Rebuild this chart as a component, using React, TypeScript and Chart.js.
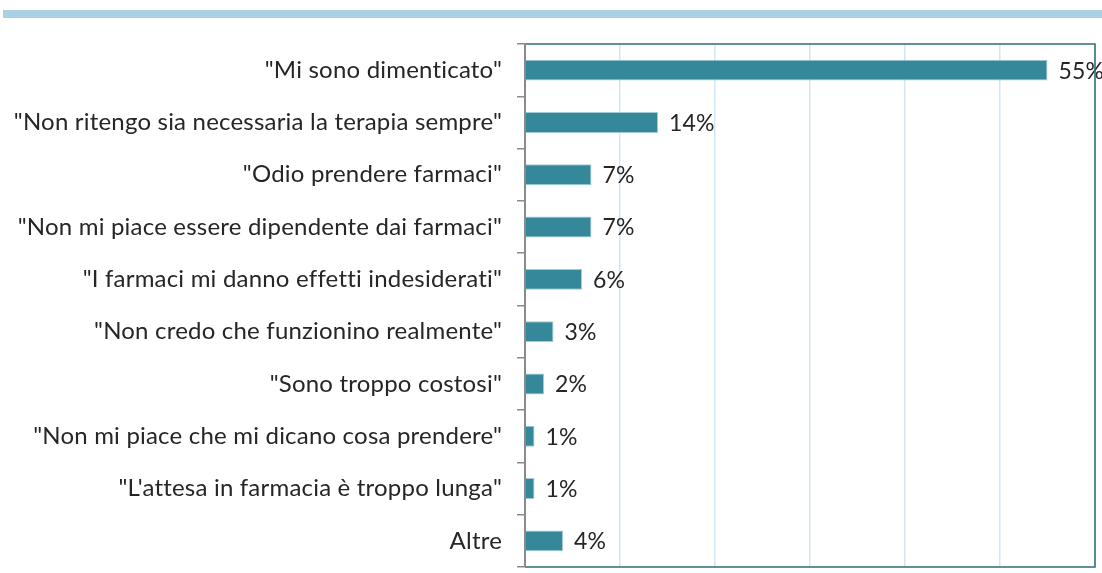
import React, { useEffect, useRef } from "react";
import { Chart, registerables } from "chart.js";

Chart.register(...registerables);

const categories = [
  "\"Mi sono dimenticato\"",
  "\"Non ritengo sia necessaria la terapia sempre\"",
  "\"Odio prendere farmaci\"",
  "\"Non mi piace essere dipendente dai farmaci\"",
  "\"I farmaci mi danno effetti indesiderati\"",
  "\"Non credo che funzionino realmente\"",
  "\"Sono troppo costosi\"",
  "\"Non mi piace che mi dicano cosa prendere\"",
  "\"L'attesa in farmacia è troppo lunga\"",
  "Altre",
];
const values = [55, 14, 7, 7, 6, 3, 2, 1, 1, 4];
const xMax = 60;
const xStep = 10;

const FONT = "Lato, 'Open Sans', sans-serif";

const spacingPlugin = {
  id: "noLigatures",
  beforeDraw(chart: any) {
    try {
      chart.ctx.letterSpacing = "0.2px";
    } catch (e) {}
  },
};

const framePlugin = {
  id: "frame",
  afterDraw(chart: any) {
    const { ctx, chartArea: a } = chart;
    ctx.save();
    ctx.strokeStyle = "#2f6b77";
    ctx.lineWidth = 1.5;
    ctx.beginPath();
    ctx.moveTo(a.left, a.top);
    ctx.lineTo(a.right, a.top);
    ctx.lineTo(a.right, a.bottom);
    ctx.lineTo(a.left, a.bottom);
    ctx.stroke();
    ctx.strokeStyle = "#8a8a8a";
    ctx.lineWidth = 2;
    ctx.beginPath();
    ctx.moveTo(a.left, a.top - 1);
    ctx.lineTo(a.left, a.bottom);
    ctx.stroke();
    ctx.restore();
  },
};

const labelPlugin = {
  id: "valueLabels",
  afterDatasetsDraw(chart: any) {
    const { ctx } = chart;
    const meta = chart.getDatasetMeta(0);
    ctx.save();
    ctx.font = `23px ${FONT}`;
    ctx.fillStyle = "#262626";
    ctx.textAlign = "left";
    ctx.textBaseline = "middle";
    meta.data.forEach((bar: any, i: number) => {
      ctx.fillText(values[i] + "%", bar.x + 11, bar.y + 1);
    });
    ctx.restore();
  },
};

export default function App() {
  const ref = useRef<HTMLCanvasElement>(null);
  useEffect(() => {
    if (!ref.current) return;
    const chart = new Chart(ref.current, {
      type: "bar",
      data: {
        labels: categories,
        datasets: [
          {
            data: values,
            backgroundColor: "#35879a",
            borderColor: "#9fcbd6",
            borderWidth: 1,
            barPercentage: 0.8,
            categoryPercentage: 0.5,
          },
        ],
      },
      options: {
        indexAxis: "y",
        animation: false,
        responsive: false,
        maintainAspectRatio: false,
        layout: { padding: { top: 44, right: 7, bottom: 6, left: 0 } },
        plugins: { legend: { display: false }, tooltip: { enabled: false } },
        scales: {
          x: {
            min: 0,
            max: xMax,
            ticks: { display: false, stepSize: xStep },
            grid: {
              color: "#d3e6f3",
              lineWidth: 1.5,
              drawTicks: false,
            },
            border: { display: false },
            afterFit(scale: any) {
              scale.height = 0;
              scale.paddingLeft = 0;
              scale.paddingRight = 0;
            },
          },
          y: {
            ticks: {
              color: "#262626",
              font: { family: FONT, size: 24 },
              padding: 15,
              autoSkip: false,
            },
            grid: {
              offset: true,
              drawOnChartArea: false,
              drawTicks: true,
              tickLength: 8,
              color: "#8a8a8a",
              lineWidth: 1.5,
            },
            border: { display: false },
            afterFit(scale: any) {
              scale.width = 525;
              scale.paddingTop = 0;
              scale.paddingBottom = 0;
            },
          },
        },
      },
      plugins: [spacingPlugin, framePlugin, labelPlugin],
    });
    return () => chart.destroy();
  }, []);
  return (
    <div style={{ position: "fixed", left: 0, top: 0, width: 1102, height: 573, background: "#fff" }}>
      <div style={{ position: "absolute", left: 3, top: 10, width: 1099, height: 8, background: "#a9d0e3" }} />
      <canvas ref={ref} width={1102} height={573} style={{ position: "absolute", left: 0, top: 0 }} />
    </div>
  );
}
